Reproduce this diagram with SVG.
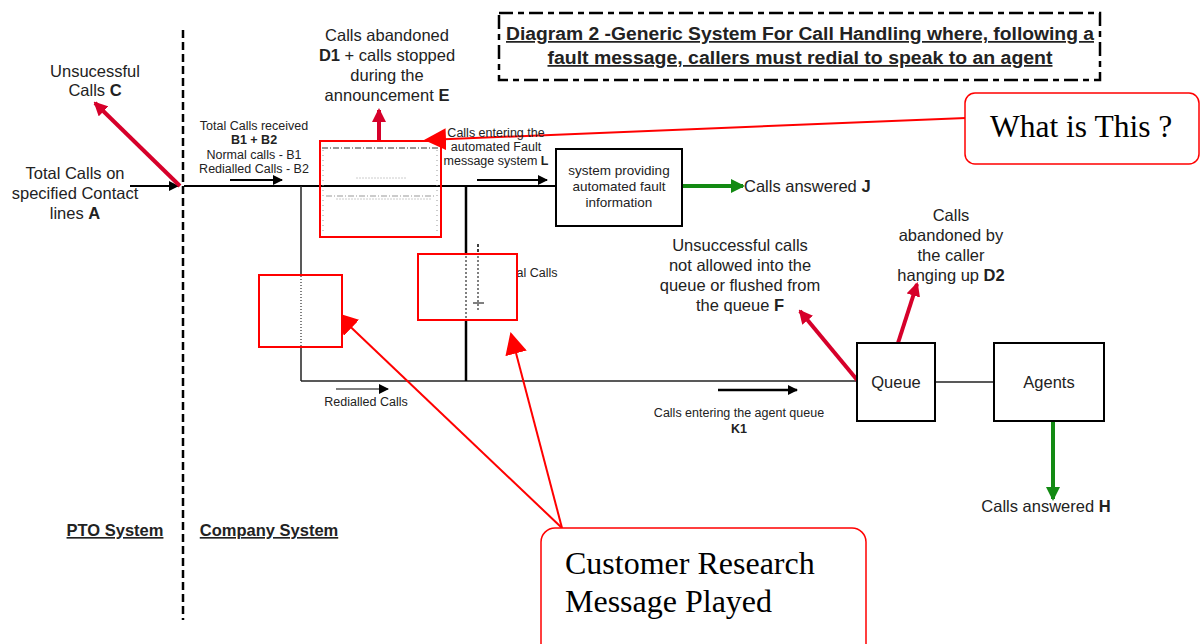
<svg xmlns="http://www.w3.org/2000/svg" width="1200" height="644" viewBox="0 0 1200 644">
<defs>
<style>
.t{font-family:"Liberation Sans",Arial,sans-serif;fill:#222;text-anchor:middle}
.s14{font-size:16.5px}
.s11{font-size:12.5px}
.s13{font-size:13.5px}
.b{font-weight:bold}
.ln{stroke:#000;stroke-width:2;fill:none}
.thin{stroke:#222;stroke-width:1.5;fill:none}
.box{fill:#fff;stroke:#000;stroke-width:2}
.rbox{fill:none;stroke:#f00;stroke-width:2}
.call{fill:#fff;stroke:#f00;stroke-width:1.5}
.serif{font-family:"Liberation Serif","Times New Roman",serif;fill:#000}
.crim{stroke:#d6002a;stroke-width:4;fill:none}
.grn{stroke:#138a13;stroke-width:4;fill:none}
.rl{stroke:#f00;stroke-width:2;fill:none}
</style>
<marker id="ab" markerWidth="10" markerHeight="10" refX="9" refY="5" orient="auto" markerUnits="userSpaceOnUse"><path d="M0,0 L10,5 L0,10 z" fill="#000"/></marker>
<marker id="ac" markerWidth="14" markerHeight="14" refX="12" refY="7" orient="auto" markerUnits="userSpaceOnUse"><path d="M0,0 L14,7 L0,14 z" fill="#d6002a"/></marker>
<marker id="ag" markerWidth="14" markerHeight="14" refX="12" refY="7" orient="auto" markerUnits="userSpaceOnUse"><path d="M0,0 L14,7 L0,14 z" fill="#138a13"/></marker>
<marker id="ar" markerWidth="22" markerHeight="22" refX="20" refY="11" orient="auto" markerUnits="userSpaceOnUse"><path d="M0,0 L22,11 L0,22 z" fill="#f00"/></marker>
</defs>
<rect width="1200" height="644" fill="#fff"/>

<!-- boundary -->
<line x1="183" y1="30" x2="183" y2="620" stroke="#000" stroke-width="2.5" stroke-dasharray="8,4"/>

<g id="connectors">
<line class="ln" x1="184" y1="186" x2="556" y2="186"/>
<line class="ln" x1="130" y1="186" x2="178" y2="186" marker-end="url(#ab)"/>
<line class="ln" x1="230" y1="180" x2="282" y2="180" marker-end="url(#ab)"/>
<line class="ln" x1="477" y1="180" x2="547" y2="180" marker-end="url(#ab)"/>
<line class="thin" x1="301" y1="186" x2="301" y2="381"/>
<line class="thin" x1="301" y1="381" x2="858" y2="381"/>
<line x1="466" y1="186" x2="466" y2="381" stroke="#000" stroke-width="2.5"/>
<line x1="478" y1="244" x2="478" y2="300" stroke="#000" stroke-width="1.5" stroke-dasharray="3,2"/>
<line x1="336" y1="389" x2="388" y2="389" stroke="#000" stroke-width="1.2" marker-end="url(#ab)"/>
<line x1="718" y1="390" x2="797" y2="390" stroke="#000" stroke-width="2.5" marker-end="url(#ab)"/>
<line class="thin" x1="935" y1="382" x2="994" y2="382"/>
<line class="crim" x1="180" y1="186" x2="95" y2="103" marker-end="url(#ac)"/>
<line class="crim" x1="379" y1="141" x2="379" y2="110" marker-end="url(#ac)"/>
<line class="crim" x1="858" y1="381" x2="800" y2="311" marker-end="url(#ac)"/>
<line class="crim" x1="898" y1="343" x2="917" y2="284" marker-end="url(#ac)"/>
<line class="grn" x1="682" y1="186" x2="743" y2="186" marker-end="url(#ag)"/>
<line class="grn" x1="1053" y1="421" x2="1053" y2="499" marker-end="url(#ag)"/>
<line class="rl" x1="966" y1="118" x2="426" y2="140" marker-end="url(#ar)"/>
<line class="rl" x1="562" y1="528" x2="337" y2="314" marker-end="url(#ar)"/>
<line class="rl" x1="562" y1="528" x2="511" y2="334" marker-end="url(#ar)"/>
</g>

<g id="title">
<rect x="499" y="13" width="601" height="67" fill="none" stroke="#000" stroke-width="2.5" stroke-dasharray="14,5,6,5"/>
<text class="t b" x="800" y="40" font-size="17.5" textLength="588" lengthAdjust="spacingAndGlyphs" style="text-decoration:underline">Diagram 2 -Generic System For Call Handling where, following a</text>
<text class="t b" x="800" y="64" font-size="17.5" textLength="505" lengthAdjust="spacingAndGlyphs" style="text-decoration:underline">fault message, callers must redial to speak to an agent</text>
</g>

<g id="labels">
<text class="t s14" x="95" y="77">Unsucessful</text>
<text class="t s14" x="95" y="96">Calls <tspan class="b">C</tspan></text>
<text class="t s14" x="75" y="179">Total Calls on</text>
<text class="t s14" x="75" y="199">specified Contact</text>
<text class="t s14" x="75" y="219">lines <tspan class="b">A</tspan></text>
<text class="t s14" x="387" y="41">Calls abandoned</text>
<text class="t s14" x="387" y="61"><tspan class="b">D1</tspan> + calls stopped</text>
<text class="t s14" x="387" y="81">during the</text>
<text class="t s14" x="387" y="101">announcement <tspan class="b">E</tspan></text>
<text class="t s11" x="254" y="130">Total Calls received</text>
<text class="t s11 b" x="254" y="144">B1 + B2</text>
<text class="t s11" x="254" y="159">Normal calls - B1</text>
<text class="t s11" x="254" y="173">Redialled Calls - B2</text>
<text class="t s11" x="496" y="137">Calls entering the</text>
<text class="t s11" x="496" y="151">automated Fault</text>
<text class="t s11" x="496" y="165">message system <tspan class="b">L</tspan></text>
<text class="t s14" x="744" y="192" style="text-anchor:start">Calls answered <tspan class="b">J</tspan></text>
<text class="t s11" x="486" y="277" style="text-anchor:start"><tspan fill="#bbb">Norm</tspan>al Calls</text>
<text class="t s11" x="366" y="406">Redialled Calls</text>
<text class="t s11" x="739" y="417">Calls entering the agent queue</text>
<text class="t s11 b" x="739" y="433">K1</text>
<text class="t s14" x="740" y="251">Unsuccessful calls</text>
<text class="t s14" x="740" y="271">not allowed into the</text>
<text class="t s14" x="740" y="291">queue or flushed from</text>
<text class="t s14" x="740" y="311">the queue <tspan class="b">F</tspan></text>
<text class="t s14" x="951" y="221">Calls</text>
<text class="t s14" x="951" y="241">abandoned by</text>
<text class="t s14" x="951" y="261">the caller</text>
<text class="t s14" x="951" y="281">hanging up <tspan class="b">D2</tspan></text>
<text class="t s14" x="1046" y="512">Calls answered <tspan class="b">H</tspan></text>
<text class="t s14 b" x="115" y="536" style="text-decoration:underline">PTO System</text>
<text class="t s14 b" x="269" y="536" style="text-decoration:underline">Company System</text>
</g>

<g id="optional-box">
<line x1="322" y1="148" x2="440" y2="148" stroke="#333" stroke-width="1" stroke-dasharray="6,2,1,2"/>
<line x1="437" y1="150" x2="437" y2="235" stroke="#999" stroke-width="1" stroke-dasharray="1,4"/>
<line x1="323" y1="150" x2="323" y2="235" stroke="#999" stroke-width="1" stroke-dasharray="1,4"/>
<line x1="356" y1="178" x2="406" y2="178" stroke="#ccc" stroke-width="1" stroke-dasharray="2,1"/>
<line x1="326" y1="196" x2="436" y2="196" stroke="#999" stroke-width="1" stroke-dasharray="6,2,1,2"/>
<line x1="336" y1="199" x2="432" y2="199" stroke="#ccc" stroke-width="1" stroke-dasharray="2,1"/>
<rect class="rbox" x="320" y="141" width="121" height="96"/>
</g>

<g id="fault-system">
<rect class="box" x="556" y="149" width="126" height="77"/>
<text class="t s13" x="619" y="175">system providing</text>
<text class="t s13" x="619" y="191">automated fault</text>
<text class="t s13" x="619" y="207">information</text>
</g>

<g id="research-box-1">
<rect fill="#fff" x="260" y="276" width="82" height="71"/>
<line x1="301" y1="276" x2="301" y2="346" stroke="#000" stroke-width="1" stroke-dasharray="1,2"/>
<rect class="rbox" x="259" y="275" width="83" height="72"/>
</g>

<g id="research-box-2">
<rect fill="#fff" x="419" y="255" width="98" height="65"/>
<line x1="466" y1="256" x2="466" y2="318" stroke="#000" stroke-width="1" stroke-dasharray="2,2"/>
<line x1="478" y1="256" x2="478" y2="310" stroke="#000" stroke-width="1" stroke-dasharray="2,2"/>
<line x1="473" y1="303" x2="484" y2="303" stroke="#000" stroke-width="1"/>
<rect class="rbox" x="418" y="254" width="99" height="66"/>
</g>

<g id="queue">
<rect class="box" x="857" y="343" width="78" height="78"/>
<text class="t s14" x="896" y="388">Queue</text>
</g>

<g id="agents">
<rect class="box" x="994" y="343" width="110" height="78"/>
<text class="t s14" x="1049" y="388">Agents</text>
</g>

<g id="what-is-this">
<rect class="call" x="965" y="93" width="234" height="71" rx="10"/>
<text class="serif" x="990" y="137" font-size="31.5">What is This ?</text>
</g>

<g id="customer-research">
<rect class="call" x="541" y="528" width="325" height="130" rx="14"/>
<text class="serif" x="565" y="574" font-size="32">Customer Research</text>
<text class="serif" x="565" y="612" font-size="32">Message Played</text>
</g>
</svg>
